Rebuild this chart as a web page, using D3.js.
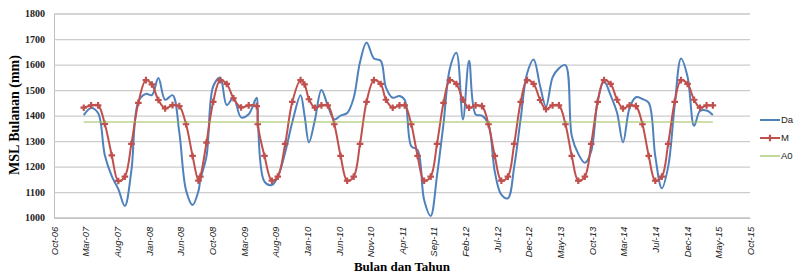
<!DOCTYPE html>
<html>
<head>
<meta charset="utf-8">
<script src="https://cdn.jsdelivr.net/npm/d3@7"></script>
<style>
  body { margin: 0; background: #fff; }
</style>
</head>
<body>
<div id="viz-container"></div>
<script>
// dates of the monthly points
const pointDates = [
  "2007-03-01","2007-04-05","2007-05-08","2007-06-09","2007-07-12","2007-08-12","2007-09-12","2007-10-13","2007-11-15","2007-12-21",
  "2008-01-18","2008-02-18","2008-03-21","2008-04-25","2008-05-27","2008-06-28","2008-07-29","2008-08-26","2008-09-04","2008-10-03","2008-11-04","2008-12-07",
  "2009-01-07","2009-02-08","2009-03-16","2009-04-21","2009-05-29","2009-06-03","2009-07-05","2009-08-09","2009-09-06","2009-10-11","2009-11-14","2009-12-23",
  "2010-01-11","2010-02-01","2010-03-01","2010-04-01","2010-05-01","2010-06-01","2010-07-01","2010-08-01","2010-09-01","2010-10-01","2010-11-01","2010-12-06",
  "2011-01-07","2011-02-01","2011-03-05","2011-04-06","2011-05-01","2011-06-01","2011-07-01","2011-08-01","2011-09-01","2011-10-01","2011-11-01","2011-12-01",
  "2012-01-01","2012-02-01","2012-03-01","2012-04-01","2012-05-01","2012-06-01","2012-07-01","2012-08-01","2012-09-01","2012-10-01","2012-11-01","2012-12-01",
  "2013-01-01","2013-02-01","2013-03-01","2013-04-01","2013-05-01","2013-06-01","2013-07-01","2013-08-01","2013-09-01","2013-10-01","2013-11-01","2013-12-01",
  "2014-01-01","2014-02-01","2014-03-01","2014-04-01","2014-05-01","2014-06-01","2014-07-01","2014-08-01","2014-09-01","2014-10-01","2014-11-01","2014-12-01",
  "2015-01-01","2015-02-01","2015-03-01","2015-04-01","2015-05-01"
];

// observed monthly MSL (blue)
const dataMSL = [
  1402,1430,1410,1245,1163,1112,1046,1185,1455,1485,
  1480,1547,1462,1480,1335,1108,1050,1105,1150,1240,1515,1548,
  1441,1470,1393,1405,1470,1390,1141,1128,1160,1255,1375,1480,
  1400,1295,1383,1500,1440,1385,1400,1410,1470,1610,1686,1624,
  1615,1510,1470,1477,1461,1280,1265,1069,1007,1165,1370,1585,
  1646,1385,1615,1405,1400,1365,1180,1090,1076,1200,1390,1565,
  1620,1515,1435,1550,1585,1598,1320,1250,1215,1260,1460,1535,
  1480,1410,1295,1430,1472,1465,1450,1240,1115,1200,1441,1624,
  1552,1360,1418,1420,1402
];

// model MSL (red, with markers)
const modelMSL = [
  1431,1440,1440,1367,1244,1144,1161,1289,1450,1539,
  1522,1461,1428,1441,1437,1366,1242,1145,1161,1294,1454,1539,
  1524,1468,1432,1440,1437,1366,1242,1145,1161,1289,1454,1539,
  1522,1464,1431,1440,1440,1366,1242,1145,1161,1289,1454,1539,
  1524,1462,1431,1440,1440,1366,1242,1145,1161,1289,1450,1539,
  1524,1462,1431,1440,1437,1366,1242,1145,1161,1289,1454,1539,
  1524,1461,1425,1440,1440,1366,1242,1145,1161,1289,1454,1539,
  1524,1462,1428,1440,1437,1366,1242,1145,1161,1289,1454,1539,
  1524,1462,1431,1440,1440
];

const a0Level = 1375;

const yTicks = [1000,1100,1200,1300,1400,1500,1600,1700,1800];
const xTickLabels = ["Oct-06","Mar-07","Aug-07","Jan-08","Jun-08","Oct-08","Mar-09","Aug-09",
  "Jan-10","Jun-10","Nov-10","Apr-11","Sep-11","Feb-12","Jul-12","Dec-12","May-13","Oct-13",
  "Mar-14","Jul-14","Dec-14","May-15","Oct-15"];
const xAxisStart = "2006-10-11";
const xTickStepDays = 150;

// legend labels as far as they show before the picture's right edge
const legendNames = ["Da", "M", "A0"];

const W = 794, H = 274;
const plotLeft = 54, plotRight = 750, plotTop = 13.5, plotBottom = 217.7;

const parse = d3.timeParse("%Y-%m-%d");
const t0 = parse(xAxisStart);
const tickDates = xTickLabels.map((d, i) => d3.timeDay.offset(t0, i * xTickStepDays));

const x = d3.scaleTime()
  .domain([t0, tickDates[tickDates.length - 1]])
  .range([plotLeft, plotRight]);
const y = d3.scaleLinear().domain([1000, 1800]).range([plotBottom, plotTop]);

const dates = pointDates.map(parse);
const blue = dates.map((d, i) => ({date: d, v: dataMSL[i]}));
const red = dates.map((d, i) => ({date: d, v: modelMSL[i]}));
const green = [{date: dates[0], v: a0Level}, {date: dates[dates.length - 1], v: a0Level}];

let viz = d3.select("#viz-container")
  .append("svg")
    .attr("width", W)
    .attr("height", H)
    .style("background-color", "white");

// gridlines + y labels
let yAxis = viz.append("g")
  .attr("transform", "translate(" + plotLeft + ",0)")
  .call(d3.axisLeft(y).tickValues(yTicks).tickSize(-(plotRight - plotLeft)).tickPadding(9).tickFormat(d3.format("d")));
yAxis.select(".domain").attr("stroke", "#bfbfbf");
yAxis.selectAll(".tick line").attr("stroke", "#cccccc").attr("stroke-width", 1.2);
yAxis.selectAll("text")
  .attr("fill", "#222")
  .style("font-family", "'Liberation Serif', 'Times New Roman', serif")
  .style("font-weight", "bold")
  .style("font-size", "10px");

// x labels
let xAxis = viz.append("g")
  .attr("transform", "translate(0," + plotBottom + ")")
  .call(d3.axisBottom(x).tickValues(tickDates).tickSize(0).tickFormat((d, i) => xTickLabels[i]));
xAxis.select(".domain").attr("stroke", "#bfbfbf");
xAxis.selectAll("text")
  .attr("transform", "rotate(-90)")
  .attr("text-anchor", "end")
  .attr("x", -9)
  .attr("y", 0)
  .attr("dy", "0.35em")
  .attr("fill", "#222")
  .style("font-family", "'Liberation Sans', Arial, sans-serif")
  .style("font-style", "italic")
  .style("font-size", "9.5px");

const line = d3.line()
  .x(d => x(d.date))
  .y(d => y(d.v))
  .curve(d3.curveCatmullRom.alpha(0.5));

viz.append("path")
  .datum(blue)
  .attr("d", line)
  .attr("fill", "none")
  .attr("stroke", "#4f81bd")
  .attr("stroke-width", 2);

viz.append("path")
  .datum(red)
  .attr("d", line)
  .attr("fill", "none")
  .attr("stroke", "#c0504d")
  .attr("stroke-width", 2);

const sym = d3.symbol().type(d3.symbolCross).size(24);
viz.selectAll(".redMark").data(red).enter().append("path")
  .attr("class", "redMark")
  .attr("d", sym)
  .attr("fill", "#c0504d")
  .attr("transform", d => "translate(" + x(d.date) + "," + y(d.v) + ")");

viz.append("path")
  .datum(green)
  .attr("d", d3.line().x(d => x(d.date)).y(d => y(d.v)))
  .attr("fill", "none")
  .attr("stroke", "#9bbb59")
  .attr("stroke-width", 1.2);

// axis titles
viz.append("text")
  .text("MSL Bulanan (mm)")
  .attr("transform", "translate(19,115) rotate(-90)")
  .attr("text-anchor", "middle")
  .style("font-family", "'Liberation Serif', 'Times New Roman', serif")
  .style("font-weight", "bold")
  .style("font-size", "14px");

viz.append("text")
  .text("Bulan dan Tahun")
  .attr("x", 402)
  .attr("y", 271)
  .attr("text-anchor", "middle")
  .style("font-family", "'Liberation Serif', 'Times New Roman', serif")
  .style("font-weight", "bold")
  .style("font-size", "13px");

// legend
const legendColors = ["#4f81bd", "#c0504d", "#9bbb59"];
const legendY = [120, 138, 156];
let lg = viz.selectAll(".legendItem").data(legendNames).enter().append("g")
  .attr("class", "legendItem")
  .attr("transform", (d, i) => "translate(760," + legendY[i] + ")");
lg.append("line")
  .attr("x1", 0).attr("x2", 20)
  .attr("stroke", (d, i) => legendColors[i])
  .attr("stroke-width", (d, i) => i == 2 ? 1.2 : 2);
lg.filter((d, i) => i == 1).append("path")
  .attr("d", sym)
  .attr("fill", "#c0504d")
  .attr("transform", "translate(10,0)");
lg.append("text")
  .text(d => d)
  .attr("x", 21)
  .attr("dy", "0.35em")
  .style("font-family", "'Liberation Sans', Arial, sans-serif")
  .style("font-size", "9.5px")
  .attr("fill", "#222");
</script>
</body>
</html>
